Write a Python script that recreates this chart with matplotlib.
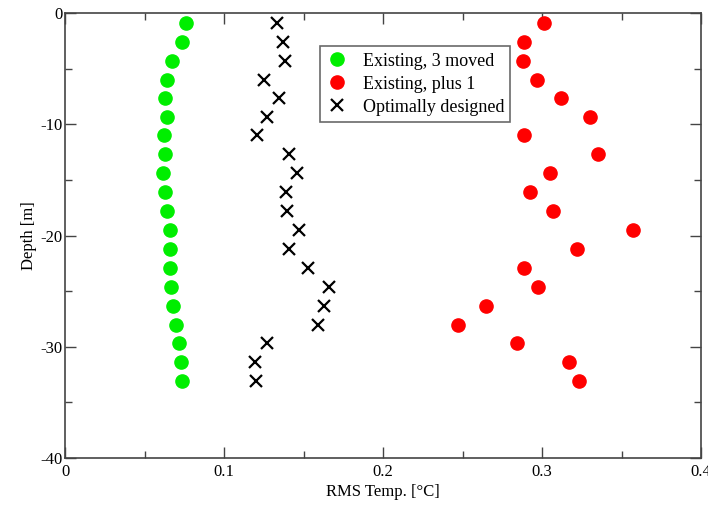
import numpy as np
import matplotlib.pyplot as plt
from matplotlib.ticker import MultipleLocator

plt.rcParams['font.family'] = ['Liberation Serif', 'DejaVu Serif']
plt.rcParams['axes.unicode_minus'] = False

# sensor depths (m) and RMS temperature error (degC) for each layout
depth = [-0.9, -2.6, -4.3, -6.0, -7.6, -9.3, -11.0, -12.7, -14.4, -16.1,
         -17.8, -19.5, -21.2, -22.9, -24.6, -26.3, -28.0, -29.7, -31.4, -33.1]
rms_moved = [0.0757, 0.0734, 0.0673, 0.0638, 0.0629, 0.0638, 0.0623, 0.0629, 0.0616, 0.0629,
             0.0642, 0.0658, 0.0657, 0.0657, 0.0665, 0.0679, 0.0696, 0.0713, 0.0726, 0.0734]
rms_plus1 = [0.3013, 0.2887, 0.2877, 0.2965, 0.3118, 0.3304, 0.2887, 0.3352, 0.3047, 0.2925,
             0.3067, 0.3570, 0.3220, 0.2883, 0.2971, 0.2650, 0.2468, 0.2841, 0.3170, 0.3231]
rms_opt = [0.1333, 0.1369, 0.1380, 0.1250, 0.1344, 0.1270, 0.1204, 0.1405, 0.1459, 0.1390,
           0.1396, 0.1468, 0.1409, 0.1526, 0.1660, 0.1627, 0.1591, 0.1270, 0.1191, 0.1197]

fig = plt.figure(figsize=(7.08, 5.05), dpi=100)
ax = fig.add_axes([0.0922, 0.093, 0.898, 0.881])

ax.plot(rms_moved, depth, 'o', color='#00ee00', ms=9.5, mec='#00ee00', label='Existing, 3 moved')
ax.plot(rms_plus1, depth, 'o', color='#ff0000', ms=9.5, mec='#ff0000', label='Existing, plus 1')
ax.plot(rms_opt, depth, 'x', color='black', ms=8.5, mew=1.6, label='Optimally designed')

ax.set_xlim(0, 0.4)
ax.set_ylim(-40, 0)
ax.xaxis.set_major_locator(MultipleLocator(0.1))
ax.xaxis.set_minor_locator(MultipleLocator(0.05))
ax.yaxis.set_major_locator(MultipleLocator(10))
ax.yaxis.set_minor_locator(MultipleLocator(5))
ax.set_xticks([0, 0.1, 0.2, 0.3, 0.4])
ax.set_xticklabels(['0', '0.1', '0.2', '0.3', '0.4'])
ax.tick_params(which='both', direction='in', top=True, right=True, colors='#444444',
               labelcolor='black', labelsize=12, pad=2)
ax.tick_params(axis='x', pad=4)
ax.tick_params(which='major', length=8, width=1)
ax.tick_params(which='minor', length=5, width=1)
for s in ax.spines.values():
    s.set_color('#444444')
    s.set_linewidth(1.2)

ax.set_xlabel('RMS Temp. [°C]', fontsize=12, labelpad=3)
ax.set_ylabel('Depth [m]', fontsize=12, labelpad=2)

leg = ax.legend(loc='upper left', bbox_to_anchor=(0.401, 0.925), fontsize=13, frameon=True,
                fancybox=False, edgecolor='#444444', borderpad=0.35, handletextpad=0.8,
                labelspacing=0.33, handlelength=1.2, borderaxespad=0)
leg.get_frame().set_linewidth(1.2)

plt.savefig('out.png', dpi=100)
